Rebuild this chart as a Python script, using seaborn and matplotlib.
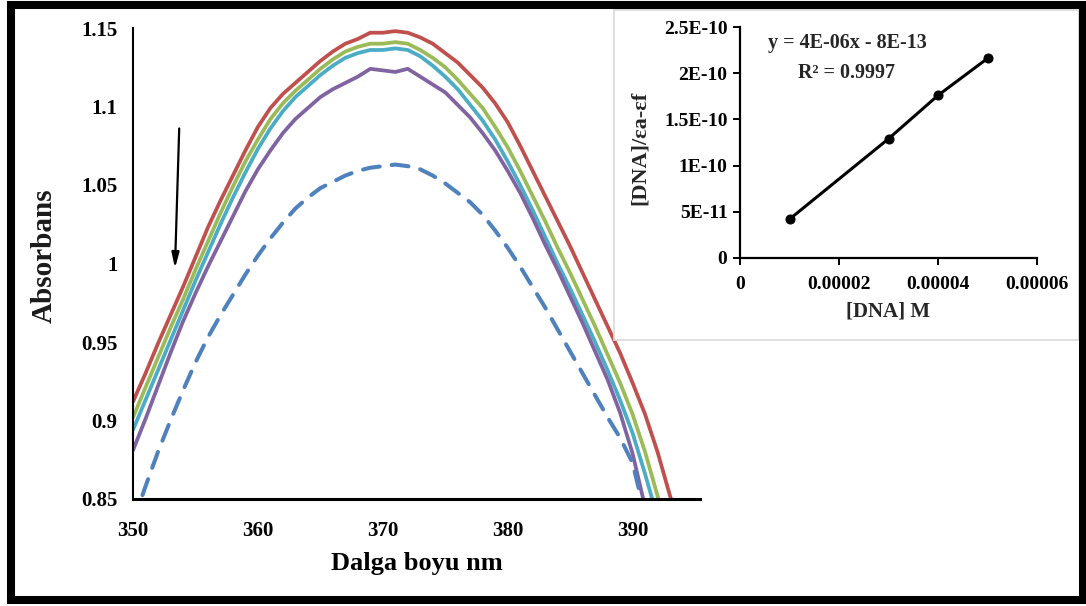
import matplotlib
matplotlib.use("Agg")
import matplotlib.pyplot as plt
from matplotlib.patches import Rectangle
import seaborn as sns

# ---------------- data ----------------
wavelength = list(range(350, 395))

abs_red = [0.912, 0.930, 0.949, 0.967, 0.985, 1.004, 1.023, 1.040, 1.056, 1.072,
           1.087, 1.099, 1.108, 1.115, 1.122, 1.129, 1.135, 1.140, 1.143, 1.147,
           1.147, 1.148, 1.147, 1.144, 1.140, 1.134, 1.128, 1.120, 1.112, 1.102,
           1.090, 1.075, 1.059, 1.043, 1.027, 1.011, 0.994, 0.977, 0.960, 0.943,
           0.924, 0.904, 0.880, 0.852, 0.828]
abs_green = [0.902, 0.921, 0.940, 0.959, 0.977, 0.996, 1.014, 1.032, 1.049, 1.065,
             1.079, 1.092, 1.102, 1.110, 1.117, 1.124, 1.130, 1.135, 1.138, 1.140,
             1.140, 1.141, 1.140, 1.136, 1.131, 1.125, 1.117, 1.108, 1.099, 1.087,
             1.074, 1.059, 1.043, 1.027, 1.010, 0.994, 0.977, 0.960, 0.942, 0.924,
             0.904, 0.880, 0.852, 0.825]
abs_cyan = [0.894, 0.913, 0.932, 0.951, 0.970, 0.989, 1.007, 1.025, 1.042, 1.058,
            1.073, 1.086, 1.097, 1.106, 1.113, 1.120, 1.126, 1.131, 1.134, 1.136,
            1.136, 1.137, 1.136, 1.132, 1.126, 1.119, 1.111, 1.101, 1.091, 1.079,
            1.065, 1.050, 1.034, 1.017, 1.000, 0.984, 0.967, 0.950, 0.932, 0.913,
            0.892, 0.866, 0.838]
abs_purple = [0.881, 0.901, 0.922, 0.943, 0.963, 0.981, 0.998, 1.014, 1.030, 1.046,
              1.060, 1.072, 1.083, 1.092, 1.099, 1.106, 1.111, 1.115, 1.119, 1.124,
              1.123, 1.122, 1.124, 1.119, 1.114, 1.109, 1.101, 1.093, 1.083, 1.072,
              1.059, 1.045, 1.029, 1.012, 0.996, 0.979, 0.962, 0.944, 0.926, 0.905,
              0.879, 0.845]
abs_free = [0.835, 0.858, 0.880, 0.900, 0.919, 0.937, 0.953, 0.967, 0.980, 0.993,
            1.005, 1.016, 1.026, 1.035, 1.042, 1.048, 1.052, 1.056, 1.059, 1.061,
            1.062, 1.063, 1.062, 1.060, 1.056, 1.051, 1.045, 1.039, 1.031, 1.021,
            1.010, 0.998, 0.985, 0.972, 0.958, 0.944, 0.930, 0.916, 0.902, 0.889,
            0.873, 0.840]

x_ticks = [350, 360, 370, 380, 390]
x_tick_labels = ["350", "360", "370", "380", "390"]
y_ticks = [0.85, 0.90, 0.95, 1.00, 1.05, 1.10, 1.15]
y_tick_labels = ["0.85", "0.9", "0.95", "1", "1.05", "1.1", "1.15"]

dna_conc = [0.00001, 0.00003, 0.00004, 0.00005]
dna_ratio = [4.2e-11, 1.29e-10, 1.76e-10, 2.16e-10]
inset_x_ticks = [0, 0.00002, 0.00004, 0.00006]
inset_x_labels = ["0", "0.00002", "0.00004", "0.00006"]
inset_y_ticks = [0, 5e-11, 1e-10, 1.5e-10, 2e-10, 2.5e-10]
inset_y_labels = ["0", "5E-11", "1E-10", "1.5E-10", "2E-10", "2.5E-10"]

# ---------------- style ----------------
sns.set_style("white")
plt.rcParams['font.family'] = ['Liberation Serif', 'DejaVu Serif']
plt.rcParams['font.weight'] = 'bold'
plt.rcParams['axes.labelweight'] = 'bold'

W, H = 1086, 606
fig = plt.figure(figsize=(W / 100, H / 100), dpi=100)
fig.patch.set_facecolor('white')

# main axes
ax = fig.add_axes([133 / W, 1 - 499 / H, (700 - 133) / W, (499 - 28) / H])
ax.set_facecolor('white')

series = [
    (abs_red, '#C0504D'),
    (abs_green, '#9BBB59'),
    (abs_cyan, '#4BACC6'),
    (abs_purple, '#8064A2'),
]
for vals, col in series:
    sns.lineplot(x=wavelength[:len(vals)], y=vals, color=col, lw=2.7, ax=ax)
sns.lineplot(x=wavelength[:len(abs_free)], y=abs_free, color='#4F81BD', lw=2.9, ax=ax)
ax.lines[-1].set_dashes([4.2, 3.0])
ax.lines[-1].set_dash_capstyle('round')
for ln in ax.lines:
    ln.set_solid_joinstyle('round')

ax.set_xlim(350, 395.4)
ax.set_ylim(0.85, 1.15)
ax.set_xticks(x_ticks)
ax.set_xticklabels(x_tick_labels)
ax.set_yticks(y_ticks)
ax.set_yticklabels(y_tick_labels)
ax.tick_params(axis='both', length=0, labelsize=15, colors='black')
ax.tick_params(axis='y', pad=11)
ax.tick_params(axis='x', pad=16)
for s in ['top', 'right']:
    ax.spines[s].set_visible(False)
for s in ['left', 'bottom']:
    ax.spines[s].set_color('black')
ax.spines['left'].set_linewidth(1.5)
ax.spines['bottom'].set_linewidth(2.2)
ax.set_xlabel('Dalga boyu nm', fontsize=19, fontweight='bold', color='black', labelpad=8)
ax.set_ylabel('')
fig.text(44 / W, 1 - 256 / H, 'Absorbans', rotation=90, fontsize=21, fontweight='bold',
         ha='center', va='center', color='#1a1a1a')

ax.annotate('', xy=(353.36, 0.997), xytext=(353.7, 1.086),
            arrowprops=dict(arrowstyle='-|>,head_width=0.22,head_length=0.9',
                            color='black', lw=1.6, shrinkA=0, shrinkB=0))

# inset box
box = Rectangle((614 / W, 1 - 340 / H), (1079 - 614) / W, (340 - 10) / H,
                transform=fig.transFigure, facecolor='white', edgecolor='#d9d9d9',
                lw=1.2, zorder=1)
fig.patches.append(box)

# inset axes
ax2 = fig.add_axes([740 / W, 1 - 258 / H, (1037 - 740) / W, (258 - 27) / H])
ax2.set_zorder(2)
ax2.patch.set_alpha(0)
sns.lineplot(x=dna_conc, y=dna_ratio, color='black', lw=2.2, marker='o',
             markersize=6.5, markeredgecolor='black', ax=ax2)
ax2.set_xlim(0, 0.00006)
ax2.set_ylim(0, 2.5e-10)
ax2.set_xticks(inset_x_ticks)
ax2.set_xticklabels(inset_x_labels)
ax2.set_yticks(inset_y_ticks)
ax2.set_yticklabels(inset_y_labels)
ax2.tick_params(axis='both', direction='out', length=5, width=1.4, labelsize=14,
                colors='black', bottom=True, left=True)
ax2.tick_params(axis='x', pad=8)
ax2.tick_params(axis='y', pad=4)
for s in ['top', 'right']:
    ax2.spines[s].set_visible(False)
for s in ['left', 'bottom']:
    ax2.spines[s].set_color('black')
    ax2.spines[s].set_linewidth(1.6)
ax2.set_xlabel('[DNA] M', fontsize=15, fontweight='bold', labelpad=6)
ax2.set_ylabel('')
fig.text(640 / W, 1 - 148 / H, '[DNA]/εa-εf', rotation=90, fontsize=16,
         fontweight='bold', ha='center', va='center', zorder=3)
fig.text(847 / W, 1 - 43 / H, 'y = 4E-06x - 8E-13', fontsize=14.5, fontweight='bold',
         ha='center', va='center', zorder=3)
fig.text(847 / W, 1 - 73 / H, 'R² = 0.9997', fontsize=14.5, fontweight='bold',
         ha='center', va='center', zorder=3)

# outer frame
frame = Rectangle((11 / W, 1 - 599.5 / H), (1082.5 - 11) / W, (599.5 - 5) / H,
                  transform=fig.transFigure, fill=False, edgecolor='black',
                  lw=5.8, zorder=5)
fig.patches.append(frame)

fig.savefig('out.png', dpi=100)
